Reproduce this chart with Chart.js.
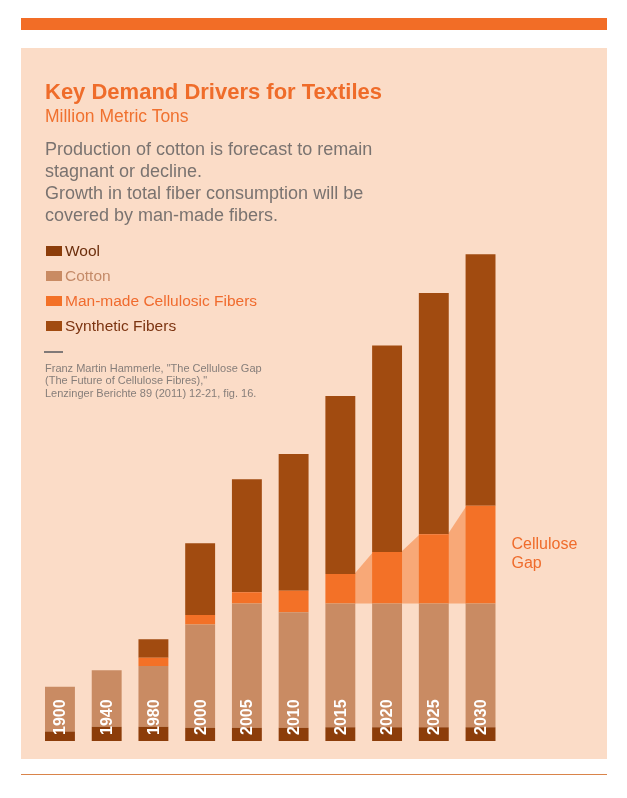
<!DOCTYPE html>
<html>
<head>
<meta charset="utf-8">
<title>Key Demand Drivers for Textiles</title>
<script src="https://cdn.jsdelivr.net/npm/chart.js@4.4.1/dist/chart.umd.min.js"></script>
<style>
  body { margin: 0; background: #fff; font-family: "Liberation Sans", Arial, Helvetica, sans-serif; }
  #page { position: relative; width: 627px; height: 798px; overflow: hidden; }
  #topbar { position: absolute; left: 21px; top: 18px; width: 586px; height: 12px; background: #f26d26; }
  #panel { position: absolute; left: 21px; top: 48px; width: 586px; height: 711px; background: #fbdcc7; }
  #rule { position: absolute; left: 21px; top: 774px; width: 586px; height: 1px; background: #d9844a; }
  #chart { position: absolute; left: 0; top: 0; }
  .txt { position: absolute; left: 45px; white-space: nowrap; }
  #title { top: 78.7px; font-size: 22px; line-height: 26px; font-weight: bold; color: #ef6c2a; }
  #subtitle { top: 105.7px; font-size: 17.5px; line-height: 21px; color: #f0712f; }
  #intro { top: 137.6px; font-size: 18px; line-height: 22.3px; color: #7a7370; }
  #legend { top: 238.4px; left: 46px; }
  .item { display: flex; align-items: center; height: 25px; font-size: 15.5px; }
  .swatch { width: 16px; height: 10px; margin-right: 3px; }
  #dash { position: absolute; left: 44px; top: 351px; width: 19px; height: 2px; background: #807978; }
  #source { top: 361.5px; font-size: 11px; line-height: 12.8px; color: #867e7a; }
</style>
</head>
<body>
<div id="page">
  <div id="topbar"></div>
  <div id="panel"></div>
  <div id="rule"></div>
  <canvas id="chart" width="627" height="798"></canvas>
  <div id="title" class="txt">Key Demand Drivers for Textiles</div>
  <div id="subtitle" class="txt">Million Metric Tons</div>
  <div id="intro" class="txt">Production of cotton is forecast to remain<br>stagnant or decline.<br>Growth in total fiber consumption will be<br>covered by man-made fibers.</div>
  <div id="legend" class="txt"></div>
  <div id="dash"></div>
  <div id="source" class="txt">Franz Martin Hammerle, "The Cellulose Gap<br>(The Future of Cellulose Fibres),"<br>Lenzinger Berichte 89 (2011) 12-21, fig. 16.</div>
</div>
<script>
"use strict";

// million metric tons
var years      = ["1900", "1940", "1980", "2000", "2005", "2010", "2015", "2020", "2025", "2030"];
var wool       = [2.7, 4.1, 4.1, 3.8, 3.8, 3.8, 3.9, 3.9, 3.9, 3.9];
var cotton     = [12.8, 16.1, 17.3, 29.5, 35.5, 33.0, 35.4, 35.4, 35.4, 35.4];
var cellulosic = [0, 0, 2.4, 2.7, 3.2, 6.1, 8.4, 14.7, 19.8, 27.9];
var synthetic  = [0, 0, 5.3, 20.5, 32.3, 39.1, 50.9, 59.0, 68.9, 71.9];
var series_names = ["Wool", "Cotton", "Man-made Cellulosic Fibers", "Synthetic Fibers"];
var gap_from = "2015";
var gap_label = ["Cellulose", "Gap"];

var colors = {
  wool: "#8c3d0a",
  cotton: "#c98b63",
  cellulosic: "#f37127",
  synthetic: "#a14b10",
  gap: "#f8a877",
  label: "#ef6c2c"
};
var text_colors = ["#6c2e0c", "#c48a68", "#f06b2e", "#7c3411"];
var series_colors = [colors.wool, colors.cotton, colors.cellulosic, colors.synthetic];

function build_legend() {
  var box = document.getElementById("legend");
  for (var i = 0; i < series_names.length; i++) {
    var row = document.createElement("div");
    row.className = "item";
    row.style.color = text_colors[i];
    var sw = document.createElement("span");
    sw.className = "swatch";
    sw.style.background = series_colors[i];
    row.appendChild(sw);
    row.appendChild(document.createTextNode(series_names[i]));
    box.appendChild(row);
  }
}

function top_of_cotton(i) { return wool[i] + cotton[i]; }
function top_of_cellulosic(i) { return wool[i] + cotton[i] + cellulosic[i]; }

var gap_plugin = {
  id: "cellulose_gap",
  beforeDatasetsDraw: function(chart) {
    var ctx = chart.ctx;
    var y = chart.scales.y;
    var bars = chart.getDatasetMeta(0).data;
    ctx.save();
    ctx.fillStyle = colors.gap;
    for (var i = years.indexOf(gap_from); i < years.length - 1; i++) {
      var right = bars[i].x + bars[i].width / 2 - 1;
      var left = bars[i + 1].x - bars[i + 1].width / 2 + 1;
      ctx.beginPath();
      ctx.moveTo(right, y.getPixelForValue(top_of_cotton(i)));
      ctx.lineTo(right, y.getPixelForValue(top_of_cellulosic(i)));
      ctx.lineTo(left, y.getPixelForValue(top_of_cellulosic(i + 1)));
      ctx.lineTo(left, y.getPixelForValue(top_of_cotton(i + 1)));
      ctx.closePath();
      ctx.fill();
    }
    ctx.restore();
  },
  afterDatasetsDraw: function(chart) {
    var ctx = chart.ctx;
    var y = chart.scales.y;
    var bars = chart.getDatasetMeta(0).data;
    var bottom = y.getPixelForValue(0);

    // year labels, white, written upward inside each bar
    ctx.save();
    ctx.fillStyle = "#ffffff";
    ctx.font = "bold 16px 'Liberation Sans', Arial, sans-serif";
    ctx.textAlign = "left";
    ctx.textBaseline = "middle";
    for (var i = 0; i < years.length; i++) {
      ctx.save();
      ctx.translate(bars[i].x + 1, bottom - 6);
      ctx.rotate(-Math.PI / 2);
      ctx.fillText(years[i], 0, 0);
      ctx.restore();
    }
    ctx.restore();

    // "Cellulose Gap" beside the last bar
    var last = years.length - 1;
    var mid = (y.getPixelForValue(top_of_cotton(last)) + y.getPixelForValue(top_of_cellulosic(last))) / 2;
    ctx.save();
    ctx.fillStyle = colors.label;
    ctx.font = "16px 'Liberation Sans', Arial, sans-serif";
    ctx.textAlign = "left";
    ctx.textBaseline = "alphabetic";
    var x = bars[last].x + bars[last].width / 2 + 16;
    ctx.fillText(gap_label[0], x, mid - 6);
    ctx.fillText(gap_label[1], x, mid + 13.5);
    ctx.restore();
  }
};

function init_chart() {
  var values = [wool, cotton, cellulosic, synthetic];
  var datasets = [];
  for (var i = 0; i < values.length; i++) {
    datasets.push({
      label: series_names[i],
      data: values[i],
      backgroundColor: series_colors[i],
      borderWidth: 0,
      barPercentage: 0.8,
      categoryPercentage: 0.8
    });
  }
  new Chart(document.getElementById("chart"), {
    type: "bar",
    data: { labels: years, datasets: datasets },
    options: {
      responsive: false,
      animation: false,
      layout: { padding: { left: 36.6, right: 123.1, top: 41, bottom: 57 } },
      scales: {
        x: { display: false, stacked: true },
        y: { display: false, stacked: true, min: 0, max: 200 }
      },
      plugins: {
        legend: { display: false },
        tooltip: { enabled: false }
      }
    },
    plugins: [gap_plugin]
  });
}

build_legend();
init_chart();
</script>
</body>
</html>
